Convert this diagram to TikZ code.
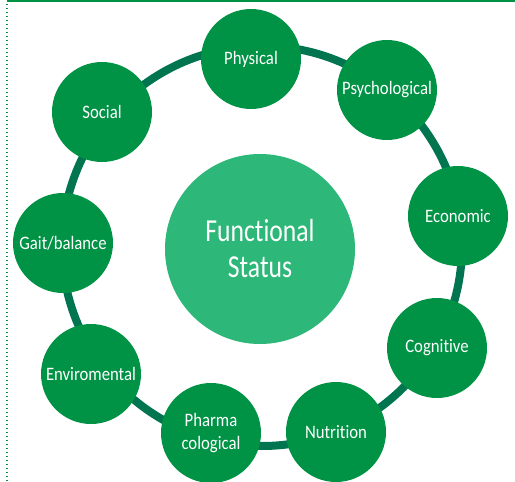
\documentclass[tikz,border=0pt]{standalone}
\usepackage{fontspec}
\setmainfont{Carlito}[FakeStretch=0.88,Ligatures=NoCommon]
\newfontfamily\hubfont{Carlito}[FakeStretch=0.8,Ligatures=NoCommon]
\definecolor{nodegreen}{RGB}{0,146,69}
\definecolor{ringgreen}{RGB}{0,117,80}
\definecolor{centergreen}{RGB}{45,183,120}
\definecolor{edgegreen}{RGB}{0,146,69}
\begin{document}
\begin{tikzpicture}[x=1pt,y=-1pt,
  factor/.style={circle,fill=nodegreen,minimum size=100pt,inner sep=0pt,text=white,font=\fontsize{19}{23}\selectfont,align=center},
  hub/.style={circle,fill=centergreen,minimum size=190pt,inner sep=0pt,text=white,font=\hubfont\fontsize{32}{36}\selectfont,align=center},
  ring/.style={draw=ringgreen,line width=8pt}]
\useasboundingbox (0,0) rectangle (515,482);
\draw[edgegreen,line width=1.5pt] (7,0.75) -- (515,0.75);
\draw[edgegreen,line width=1.2pt,dash pattern=on 1.2pt off 2.8pt] (7,4) -- (7,482);
\coordinate (rc) at (262,246);
\draw[ring] (rc) circle[radius=200];
\node[hub] (fs) at (260,249) {Functional\\Status};
\node[factor] (physical) at (251,59) {Physical};
\node[factor] (psych) at (387,90) {Psychological};
\node[factor] (econ) at (458,216) {Economic};
\node[factor] (cog) at (437,348) {Cognitive};
\node[factor] (nut) at (336,432) {Nutrition};
\node[factor] (pharma) at (211,433) {Pharma\\cological};
\node[factor] (env) at (91,374) {Enviromental};
\node[factor] (gait) at (63,243) {Gait/balance};
\node[factor] (social) at (102,112) {Social};
\end{tikzpicture}
\end{document}
